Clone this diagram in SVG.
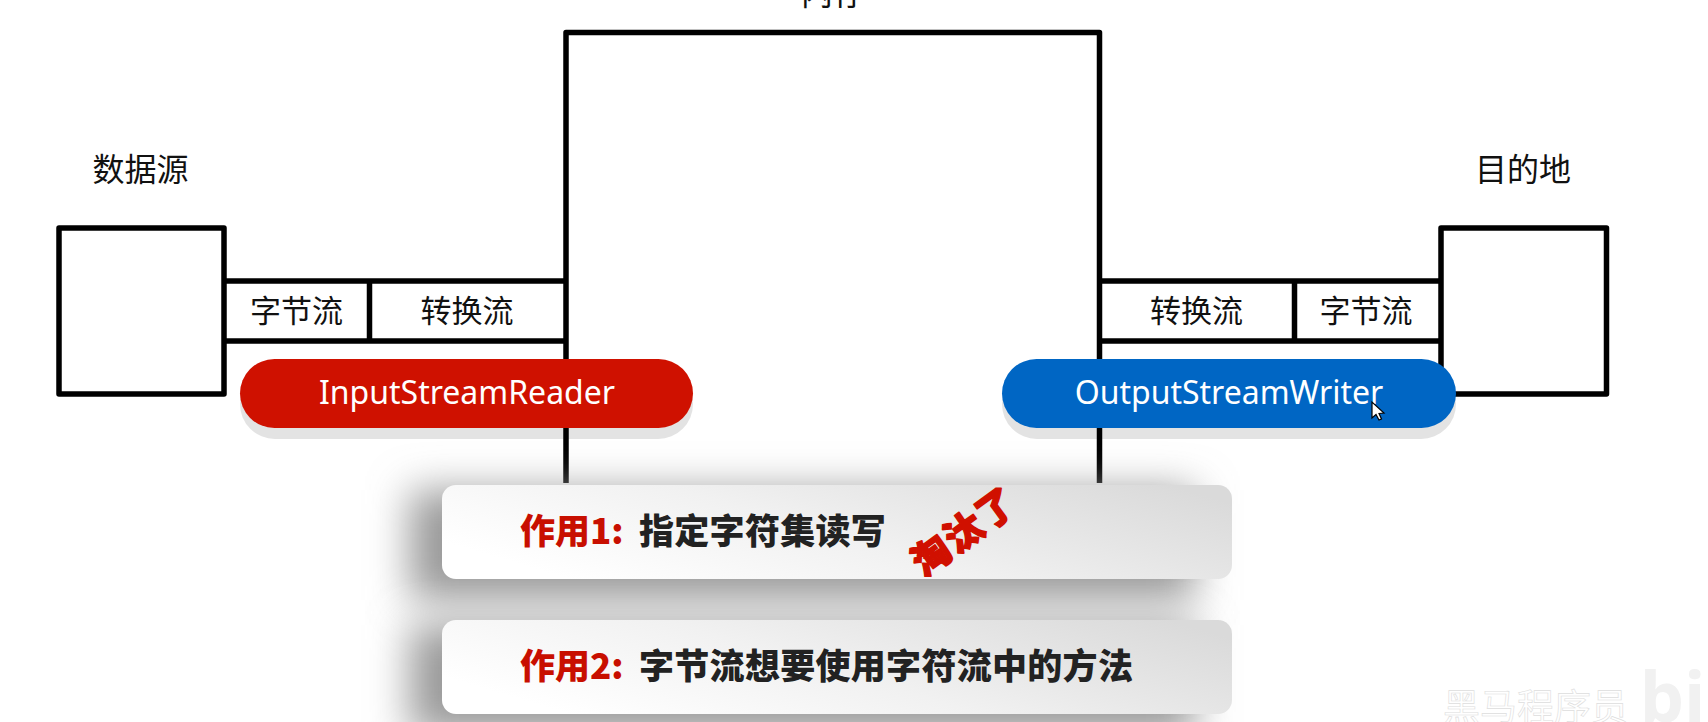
<svg xmlns="http://www.w3.org/2000/svg" width="1708" height="722" viewBox="0 0 1708 722">
<defs>
<style>
.box{fill:none;stroke:#000;stroke-width:5.5;stroke-linejoin:round}
.lbl{font-family:"Noto Sans CJK SC","Noto Sans",sans-serif;font-size:32px;fill:#111;text-anchor:middle}
.cell{font-family:"Noto Sans CJK SC","Noto Sans",sans-serif;font-size:31px;fill:#111;text-anchor:middle}
.pilltxt{font-family:"Noto Sans","Noto Sans CJK SC",sans-serif;font-size:32px;fill:#fff;text-anchor:middle}
.card{fill:url(#cardGrad)}
.shade{fill:#999;filter:url(#soft)}
.pillshade{fill:#e3e3e3}
.red{font-family:"Noto Sans CJK SC",sans-serif;font-weight:900;font-size:35px;fill:#c80f00}
.blk{font-family:"Noto Sans CJK SC",sans-serif;font-weight:900;font-size:35px;fill:#222;letter-spacing:.3px}
</style>
<linearGradient id="cardGrad" x1="0" y1="0.6" x2="1" y2="0.2">
<stop offset="0" stop-color="#ffffff"/><stop offset="0.45" stop-color="#f1f1f1"/><stop offset="1" stop-color="#dadada"/>
</linearGradient>
<filter id="soft" x="-20%" y="-80%" width="140%" height="260%"><feGaussianBlur stdDeviation="20"/></filter>
</defs>
<rect width="1708" height="722" fill="#fff"/>
<rect class="pillshade" x="240" y="369" width="453" height="70" rx="35"/>
<rect class="pillshade" x="1002" y="369" width="454" height="70" rx="35"/>
<g id="connectors">
<path class="box" d="M566 483V32.500H1099.500V483"/>
<path class="box" d="M224 281H566M224 341H566M369.500 281V341"/>
<path class="box" d="M1099.500 281H1441M1099.500 341H1441M1294.500 281V341"/>
</g>
<text class="lbl" x="833" y="5">内存</text>
<g id="source"><rect class="box" x="59" y="228" width="165" height="166"/><text class="lbl" x="140.500" y="181">数据源</text></g>
<g id="dest"><rect class="box" x="1441" y="228" width="165.500" height="166"/><text class="lbl" x="1523" y="181">目的地</text></g>
<g id="in-byte"><text class="cell" x="296.500" y="322">字节流</text></g>
<g id="in-conv"><text class="cell" x="467" y="322">转换流</text></g>
<g id="out-conv"><text class="cell" x="1196.500" y="322">转换流</text></g>
<g id="out-byte"><text class="cell" x="1366" y="322">字节流</text></g>
<g id="reader">
<rect x="240" y="359" width="453" height="69" rx="34.500" fill="#cf1100"/>
<text class="pilltxt" x="467" y="404">InputStreamReader</text>
</g>
<g id="writer">
<rect x="1002" y="359" width="454" height="69" rx="34.500" fill="#0066c4"/>
<text class="pilltxt" x="1229" y="404">OutputStreamWriter</text>
<path d="M1372 402V418L1376 414.500L1379 420L1381.500 419L1379 413.500L1384 413Z" fill="#fff" stroke="#000" stroke-width="1.200"/>
</g>
<rect class="shade" x="410" y="490" width="785" height="110"/>
<rect class="shade" x="410" y="625" width="785" height="110"/>
<g id="card1">
<rect class="card" x="442" y="485" width="790" height="94" rx="14"/>
<text class="red" x="520" y="544">作用1:</text>
<text class="blk" x="639" y="544">指定字符集读写</text>
<text x="965" y="545" transform="rotate(-36 965 532)" font-family="Noto Sans CJK SC,sans-serif" font-weight="900" font-size="38" letter-spacing="2" fill="#d01000" stroke="#d01000" stroke-width="1.500" stroke-linejoin="round" text-anchor="middle">淘汰了</text>
</g>
<g id="card2">
<rect class="card" x="442" y="620" width="790" height="94" rx="14"/>
<text class="red" x="520" y="679">作用2:</text>
<text class="blk" x="639" y="679">字节流想要使用字符流中的方法</text>
</g>
<g id="watermark">
<text x="1443" y="721" font-family="Noto Sans CJK SC,sans-serif" font-size="37" fill="#fff" stroke="#ddd" stroke-width="0.600">黑马程序员</text>
<text x="1640" y="722" font-family="Noto Sans,sans-serif" font-weight="700" font-size="70" fill="#f1f1f1">bili</text>
</g>
</svg>
